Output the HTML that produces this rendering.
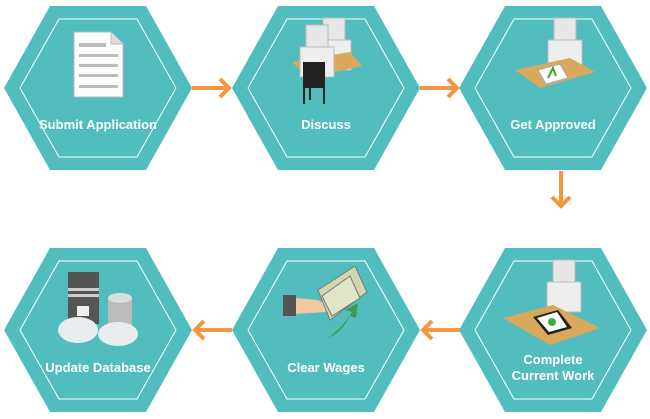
<!DOCTYPE html>
<html><head><meta charset="utf-8"><style>
html,body{margin:0;padding:0;background:#fff;}
svg{display:block;}
text{font-family:"Liberation Sans",sans-serif;font-weight:bold;font-size:13px;fill:#fff;text-anchor:middle;}
</style></head><body>
<svg width="650" height="419" viewBox="0 0 650 419" xmlns="http://www.w3.org/2000/svg">
<defs>
<g id="hex">
<polygon points="-94,0 -48,-82 48,-82 94,0 48,82 -48,82" fill="#52bdbf"/>
<polygon points="-78,0 -39,-69 39,-69 78,0 39,69 -39,69" fill="none" stroke="#fff" stroke-width="1"/>
</g>
<g id="person">
<rect x="-12" y="-40" width="22" height="22" fill="#e6e6e6" stroke="#bbb"/>
<rect x="-18" y="-18" width="34" height="30" fill="#eee" stroke="#bbb"/>
</g>
</defs>
<use href="#hex" x="98" y="88"/>
<use href="#hex" x="326" y="88"/>
<use href="#hex" x="553" y="88"/>
<use href="#hex" x="98" y="330"/>
<use href="#hex" x="326" y="330"/>
<use href="#hex" x="553" y="330"/>

<!-- arrows -->
<g stroke="#f7953f" stroke-width="4" fill="none">
<path d="M192 88H228M220 79L229 88L220 97"/>
<path d="M420 88H456M448 79L457 88L448 97"/>
<path d="M561 171V205M552 197L561 206L570 197"/>
<path d="M460 330H424M432 321L423 330L432 339"/>
<path d="M232 330H196M204 321L195 330L204 339"/>
</g>

<!-- doc icon -->
<g>
<path d="M74 32H111L123 44V97H74Z" fill="#fbfbfb" stroke="#bbb"/>
<path d="M111 32V44H123" fill="#ddd" stroke="#bbb"/>
<g fill="#bbb"><rect x="79" y="43" width="27" height="4"/><rect x="79" y="54" width="39" height="3"/><rect x="79" y="64" width="39" height="3"/><rect x="79" y="74" width="39" height="3"/><rect x="79" y="85" width="39" height="3"/></g>
</g>
<!-- discuss -->
<g>
<use href="#person" x="335" y="58"/>
<polygon points="292,62 350,52 362,66 308,78" fill="#d9a85a"/>
<use href="#person" x="318" y="65"/>
<rect x="303" y="62" width="22" height="26" fill="#222"/>
<path d="M304 88V104M324 88V104M310 86V100" stroke="#222" stroke-width="2"/>
</g>
<!-- approved -->
<g>
<use href="#person" x="566" y="58"/>
<polygon points="515,70 570,58 595,72 540,88" fill="#d9a85a"/>
<polygon points="538,70 560,64 568,78 546,84" fill="#fff" stroke="#aaa"/>
<path d="M548 78L553 68L556 76" stroke="#3a3" stroke-width="2" fill="none"/>
</g>
<!-- complete work -->
<g>
<use href="#person" x="565" y="300"/>
<polygon points="503,318 553,305 600,328 550,345" fill="#d9a85a"/>
<polygon points="533,317 558,310 572,328 548,335" fill="#222"/>
<polygon points="537,318 557,312 567,327 549,332" fill="#fff"/>
<circle cx="552" cy="322" r="4" fill="#4a4"/>
</g>
<!-- wages -->
<g>
<rect x="283" y="295" width="13" height="21" fill="#555"/>
<path d="M296 298L318 300L330 306L325 312L296 314Z" fill="#f0c8a0"/>
<polygon points="318,290 355,266 367,292 330,320" fill="#cfd7b0" stroke="#777"/>
<polygon points="322,296 350,276 360,298 332,316" fill="#dfe5c5" stroke="#777"/>
<path d="M328 338Q345 325 352 312L345 310L358 303L356 318L350 316Q342 332 328 338Z" fill="#3e9a4e"/>
</g>
<!-- database -->
<g>
<rect x="68" y="272" width="31" height="52" fill="#555"/>
<rect x="68" y="288" width="31" height="3" fill="#ccc"/><rect x="68" y="294" width="31" height="3" fill="#ccc"/>
<rect x="77" y="306" width="12" height="10" fill="#eee"/>
<rect x="108" y="298" width="24" height="36" fill="#bbb"/>
<ellipse cx="120" cy="298" rx="12" ry="5" fill="#ddd"/>
<ellipse cx="78" cy="330" rx="20" ry="13" fill="#e8eef0"/>
<ellipse cx="118" cy="334" rx="20" ry="12" fill="#e8eef0"/>
</g>

<text x="98" y="129">Submit Application</text>
<text x="326" y="129">Discuss</text>
<text x="553" y="129">Get Approved</text>
<text x="98" y="372">Update Database</text>
<text x="326" y="372">Clear Wages</text>
<text x="553" y="364">Complete</text>
<text x="553" y="380">Current Work</text>
</svg>
</body></html>
